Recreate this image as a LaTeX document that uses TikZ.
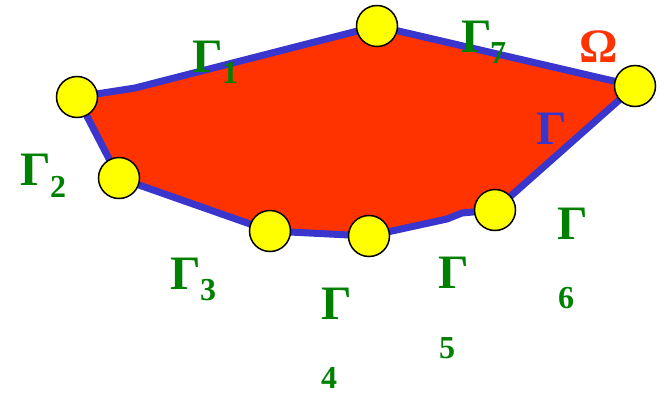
\documentclass[tikz,border=0pt]{standalone}
\usepackage{fontspec}
\setmainfont{Liberation Serif}
\definecolor{regred}{HTML}{FF3300}
\definecolor{bndblue}{HTML}{3A35CC}
\definecolor{lblgreen}{HTML}{008000}
\definecolor{ptyellow}{HTML}{FFFF00}
\tikzset{
  vtx/.style={circle,draw=black,line width=1.5pt,fill=ptyellow,minimum size=41pt,inner sep=0pt},
  big/.style={anchor=base west,inner sep=0pt,font=\fontsize{48}{48}\selectfont\bfseries},
  small/.style={anchor=base west,inner sep=0pt,font=\fontsize{32}{32}\selectfont\bfseries},
}
\begin{document}
\begin{tikzpicture}[x=1pt,y=-1pt]
\useasboundingbox (0,0) rectangle (664,394);
% vertices
\coordinate (p1) at (77,97);
\coordinate (k1) at (135,88);
\coordinate (p2) at (377,26);
\coordinate (p3) at (635,86);
\coordinate (p4) at (495,210);
\coordinate (k2) at (462,213);
\coordinate (k3) at (447,219);
\coordinate (p5) at (369,236);
\coordinate (p6) at (270,231);
\coordinate (p7) at (119,178);
\draw[fill=regred,draw=bndblue,line width=7pt,line join=round]
  (p1) -- (k1) -- (p2) -- (p3) -- (p4) -- (k2) -- (k3) -- (p5) -- (p6) -- (p7) -- cycle;
\foreach \n in {p1,p2,p3,p4,p5,p6,p7} \node[vtx] (c\n) at (\n) {};
% labels
\node[big,text=lblgreen] (g1) at (192,72) {Γ};
\node[small,text=lblgreen] (s1) at (222,83) {1};
\node[big,text=lblgreen] (g2) at (20,185) {Γ};
\node[small,text=lblgreen] (s2) at (50,197) {2};
\node[big,text=lblgreen] (g7) at (461,52) {Γ};
\node[small,text=lblgreen] (s7) at (490,63) {7};
\node[big,text=regred] (om) at (579,62) {Ω};
\node[big,text=bndblue] (gb) at (536,144) {Γ};
\node[big,text=lblgreen] (g3) at (170,289) {Γ};
\node[small,text=lblgreen] (s3) at (200,300) {3};
\node[big,text=lblgreen] (g4) at (321,319) {Γ};
\node[small,text=lblgreen] (s4) at (321,388) {4};
\node[big,text=lblgreen] (g5) at (438,288) {Γ};
\node[small,text=lblgreen] (s5) at (439,358) {5};
\node[big,text=lblgreen] (g6) at (557,239) {Γ};
\node[small,text=lblgreen] (s6) at (558,308) {6};
\end{tikzpicture}
\end{document}
